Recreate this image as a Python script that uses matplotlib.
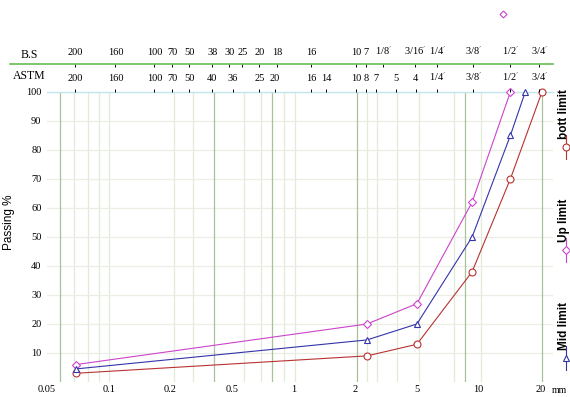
import numpy as np
import matplotlib
matplotlib.use('Agg')
import matplotlib.pyplot as plt
from matplotlib.lines import Line2D

plt.rcParams['font.family'] = ['Liberation Serif', 'DejaVu Serif']
plt.rcParams['mathtext.fontset'] = 'stix'

# ---- data (sieve opening in mm, passing %) ----
size_ticks = [0.05, 0.1, 0.2, 0.5, 1, 2, 5, 10, 20]
size_tick_labels = ['0.05', '0.1', '0.2', '0.5', '1', '2', '5', '10', '20']
passing_ticks = [10, 20, 30, 40, 50, 60, 70, 80, 90, 100]

up_x = [0.069, 2.38, 5.0, 9.3, 14.3]
up_y = [6, 20, 27, 62, 100]
mid_x = [0.069, 2.38, 5.0, 9.3, 14.3, 16.9]
mid_y = [4.5, 14.5, 20, 50, 85, 100]
bott_x = [0.069, 2.38, 5.0, 9.3, 14.3, 20.4]
bott_y = [3, 9, 13, 38, 70, 100]
stray_x = [13.1]
stray_y = [127]

inch = r'$^{\prime}$'
bs_labels = ['200', '160', '100', '70', '50', '38', '30', '25', '20', '18', '16', '10', '7',
             '1/8' + inch, '3/16' + inch, '1/4' + inch, '3/8' + inch, '1/2' + inch, '3/4' + inch]
bs_sizes = [0.070, 0.11, 0.17, 0.21, 0.27, 0.38, 0.49, 0.57, 0.69, 0.84, 1.23, 2.05, 2.38,
            3.06, 4.91, 6.31, 9.44, 14.3, 19.8]
astm_labels = ['200', '160', '100', '70', '50', '40', '36', '25', '20', '16', '14', '10', '8', '7',
               '5', '4', '1/4' + inch, '3/8' + inch, '1/2' + inch, '3/4' + inch]
astm_sizes = [0.070, 0.11, 0.17, 0.21, 0.27, 0.38, 0.51, 0.69, 0.82, 1.23, 1.46, 2.05, 2.38, 2.75,
              3.71, 4.95, 6.31, 9.44, 14.3, 19.8]

grid_dark = [0.058, 0.38, 0.78, 2.05, 8.6, 20.4]
grid_light = [0.068, 0.079, 0.09, 0.1, 0.21, 0.28, 0.57, 0.69, 0.9, 1.02, 2.39, 2.75, 3.71,
              5.1, 7.55, 10.3]

# ---- scale: bottom labels evenly spaced, log in between ----
lg = np.log10(size_ticks)
lg_ext = np.r_[2 * lg[0] - lg[1], lg, 2 * lg[-1] - lg[-2]]
pos_ext = np.arange(-1, len(size_ticks) + 1)


def forward(x):
    x = np.clip(np.asarray(x, dtype=float), 1e-9, None)
    return np.interp(np.log10(x), lg_ext, pos_ext)


def inverse(p):
    return 10 ** np.interp(p, pos_ext, lg_ext)


xlim = (0.0511, 23.1)

fig = plt.figure(figsize=(5.7, 3.97), dpi=100)
fig.set_facecolor('white')
ax = fig.add_axes([0.0825, 0.0378, 0.8877, 0.7305])
ax.set_xscale('function', functions=(forward, inverse))
ax.set_xlim(*xlim)
ax.set_ylim(0, 100)

for s in ['left', 'right', 'bottom']:
    ax.spines[s].set_visible(False)
ax.spines['top'].set_color('#c4e6ee')
ax.spines['top'].set_linewidth(1.0)

ax.set_xticks(size_ticks)
ax.set_xticklabels(size_tick_labels)
ax.set_yticks(passing_ticks)
ax.tick_params(axis='both', length=0, labelsize=7.5)
ax.tick_params(axis='x', pad=2)
ax.tick_params(axis='y', pad=4)
ax.grid(axis='y', color='#eaeee5', linewidth=0.9)
ax.set_axisbelow(True)

for g in grid_light:
    ax.axvline(g, color='#e0ebd8', linewidth=0.9, zorder=0.5)
for g in grid_dark:
    ax.axvline(g, color='#a9c09a', linewidth=0.9, zorder=0.6)

ax.text(0.997, -0.028, 'mm', transform=ax.transAxes, fontsize=7, va='center', ha='left')

ax.set_ylabel('Passing %', family='Liberation Sans', fontsize=8.5)
ax.yaxis.set_label_coords(-0.063, 0.55)

# ---- curves ----
c_up, c_mid, c_bott = '#cc44cc', '#3434aa', '#b83232'
ax.plot(bott_x, bott_y, color=c_bott, lw=0.8, marker='o', ms=5, mfc='white', mec=c_bott, mew=0.8,
        clip_on=False, zorder=3)
ax.plot(up_x, up_y, color=c_up, lw=0.8, marker='D', ms=4, mfc='white', mec=c_up, mew=0.8,
        clip_on=False, zorder=3)
ax.plot(mid_x, mid_y, color=c_mid, lw=0.8, marker='^', ms=5, mfc='white', mec=c_mid, mew=0.8,
        clip_on=False, zorder=3)
ax.plot(stray_x, stray_y, ls='none', marker='D', ms=3.5, mfc='white', mec=c_up, mew=0.8,
        clip_on=False)

# ---- top sieve scales ----
ax_astm = ax.twiny()
ax_astm.set_xscale('function', functions=(forward, inverse))
ax_astm.set_xlim(*xlim)
ax_astm.set_xticks(astm_sizes)
ax_astm.set_xticklabels(astm_labels)
ax_astm.tick_params(axis='x', direction='out', length=2.5, width=0.7, pad=4, labelsize=7.5)
for s in ax_astm.spines.values():
    s.set_visible(False)

ax_bs = ax.twiny()
ax_bs.set_xscale('function', functions=(forward, inverse))
ax_bs.set_xlim(*xlim)
ax_bs.spines['top'].set_position(('axes', 1.0966))
ax_bs.set_xticks(bs_sizes)
ax_bs.set_xticklabels(bs_labels)
ax_bs.tick_params(axis='x', direction='in', length=2.5, width=0.7, pad=5, labelsize=7.5)
for s in ax_bs.spines.values():
    s.set_visible(False)

fig.add_artist(Line2D([10 / 570, 553 / 570], [1 - 64 / 397, 1 - 64 / 397], color='#66bb55', lw=1.2))
fig.text(29 / 570, 1 - 55 / 397, 'B.S', fontsize=8.5, ha='center', va='center')
fig.text(29 / 570, 1 - 76 / 397, 'ASTM', fontsize=8.5, ha='center', va='center')

# ---- vertical legend on the right ----
legend_items = [('bott limit', c_bott, 'o', 147), ('Up limit', c_up, 'D', 250), ('Mid limit', c_mid, '^', 358)]
for name, col, mk, py in legend_items:
    ym = 1 - py / 397
    fig.add_artist(Line2D([566 / 570, 566 / 570], [ym - 12 / 397, ym + 12 / 397], color=col, lw=0.8))
    fig.add_artist(Line2D([566 / 570], [ym], color=col, marker=mk, ms=5 if mk != 'D' else 4.5,
                          mfc='white', mec=col, mew=0.8))
    fig.text(564 / 570, ym + 8 / 397, name, rotation=90, ha='center', va='bottom',
             family='Liberation Sans', fontweight='bold', fontsize=8.5)

plt.savefig('out.png', dpi=100)
